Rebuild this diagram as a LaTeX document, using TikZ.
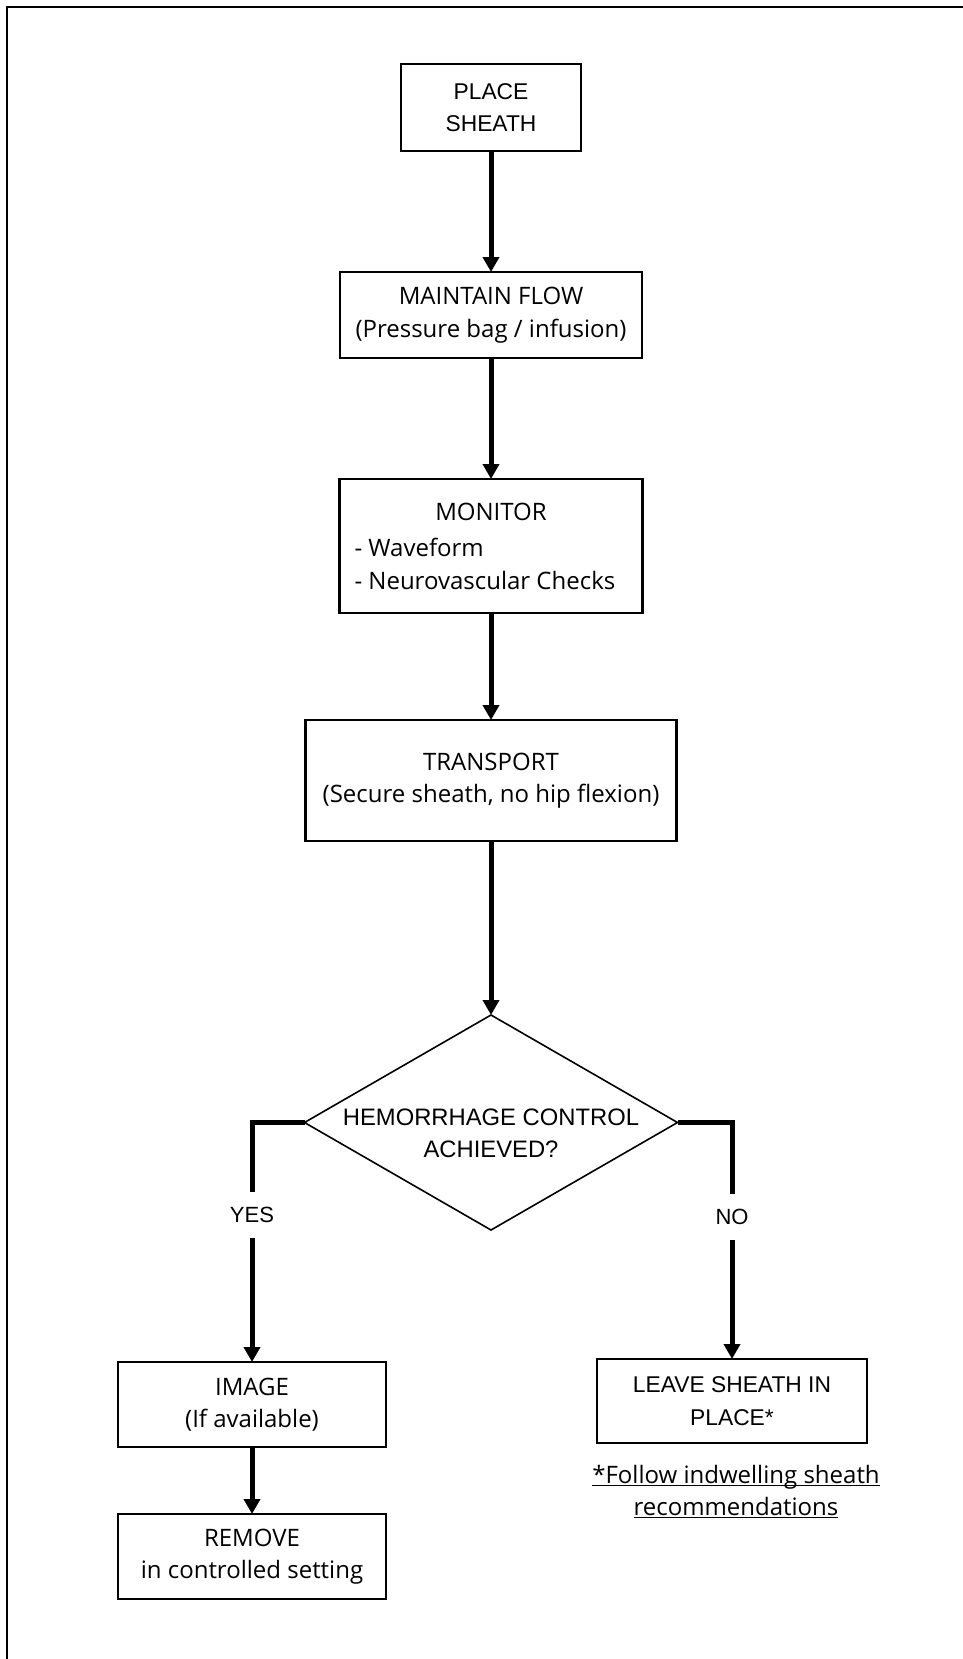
\documentclass[tikz,border=0pt]{standalone}
\usepackage{fontspec}
\setmainfont{Open Sans}
\newfontfamily\helv{Liberation Sans}
\usetikzlibrary{arrows.meta,shapes.geometric}

% word-processor style underline: a thin rule just under the baseline
\newcommand\fnline[1]{\setbox0=\hbox{#1}\rlap{\rule[-3pt]{\wd0}{1.4pt}}\box0}
% fixed-width line, left aligned, for the bullet list
\newcommand\listline[1]{\makebox[273pt][l]{#1}}

\begin{document}
\begin{tikzpicture}[x=1pt,y=-1pt,
  box/.style={draw=black, line width=2.5pt, inner sep=0pt, outer sep=0pt,
    align=center, font=\fontsize{24}{32.5}\selectfont},
  abox/.style={box, font=\helv\fontsize{22.8}{32.5}\selectfont},
  decision/.style={diamond, draw=black, line width=1.6pt, inner sep=0pt,
    outer sep=0pt, minimum width=373pt, minimum height=215pt},
  flowarrow/.style={line width=5pt, -{Triangle[width=16pt,length=15pt]}},
  branch/.style={line width=5pt, line join=miter},
  answer/.style={font=\helv\fontsize{22}{26}\selectfont, inner sep=0pt,
    outer sep=0pt, minimum height=46pt}
]
\useasboundingbox (0,0) rectangle (963,1659);

% page frame
\draw[line width=2.5pt] (966,7) -- (7,7) -- (7,1662);

% main column
\node[abox, minimum width=180pt, minimum height=87pt] (place) at (491,107.5) {PLACE\\SHEATH};
\node[box, minimum width=302pt, minimum height=86pt] (flow) at (491,315) {MAINTAIN FLOW\\(Pressure bag / infusion)};
\node[box, minimum width=303pt, minimum height=134pt] (monitor) at (491,546)
  {MONITOR\\[4pt]\listline{- Waveform}\\\listline{- Neurovascular Checks}};
\node[box, minimum width=371pt, minimum height=121pt] (transport) at (491,780.5) {TRANSPORT\\(Secure sheath, no hip flexion)};

% decision
\node[decision] (dia) at (491,1122.5) {};
\node[font=\helv\fontsize{23.8}{32}\selectfont, align=center, inner sep=0pt] (diatext) at (491,1133)
  {HEMORRHAGE CONTROL\\ACHIEVED?};
\node[answer] (yes) at (252,1215) {YES};
\node[answer] (no) at (732,1217) {NO};

% outcomes
\node[box, minimum width=268pt, minimum height=85pt] (img) at (252,1404.5) {IMAGE\\(If available)};
\node[box, minimum width=268pt, minimum height=85pt] (remove) at (252,1556.5) {REMOVE\\in controlled setting};
\node[abox, minimum width=270pt, minimum height=84pt] (leave) at (732,1401) {LEAVE SHEATH IN\\PLACE*};
\node[font=\fontsize{24}{32}\selectfont, align=center, inner sep=0pt] (note) at (736,1491.5)
  {\fnline{*Follow indwelling sheath}\\\fnline{recommendations}};

% connectors
\draw[flowarrow] (place.south) -- (flow.north);
\draw[flowarrow] (flow.south) -- (monitor.north);
\draw[flowarrow] (monitor.south) -- (transport.north);
\draw[flowarrow] (transport.south) -- (dia.north);
\draw[branch] (dia.west) -| (yes.north);
\draw[flowarrow] (yes.south) -- (img.north);
\draw[branch] (dia.east) -| (no.north);
\draw[flowarrow] (no.south) -- (leave.north);
\draw[flowarrow] (img.south) -- (remove.north);
\end{tikzpicture}
\end{document}
